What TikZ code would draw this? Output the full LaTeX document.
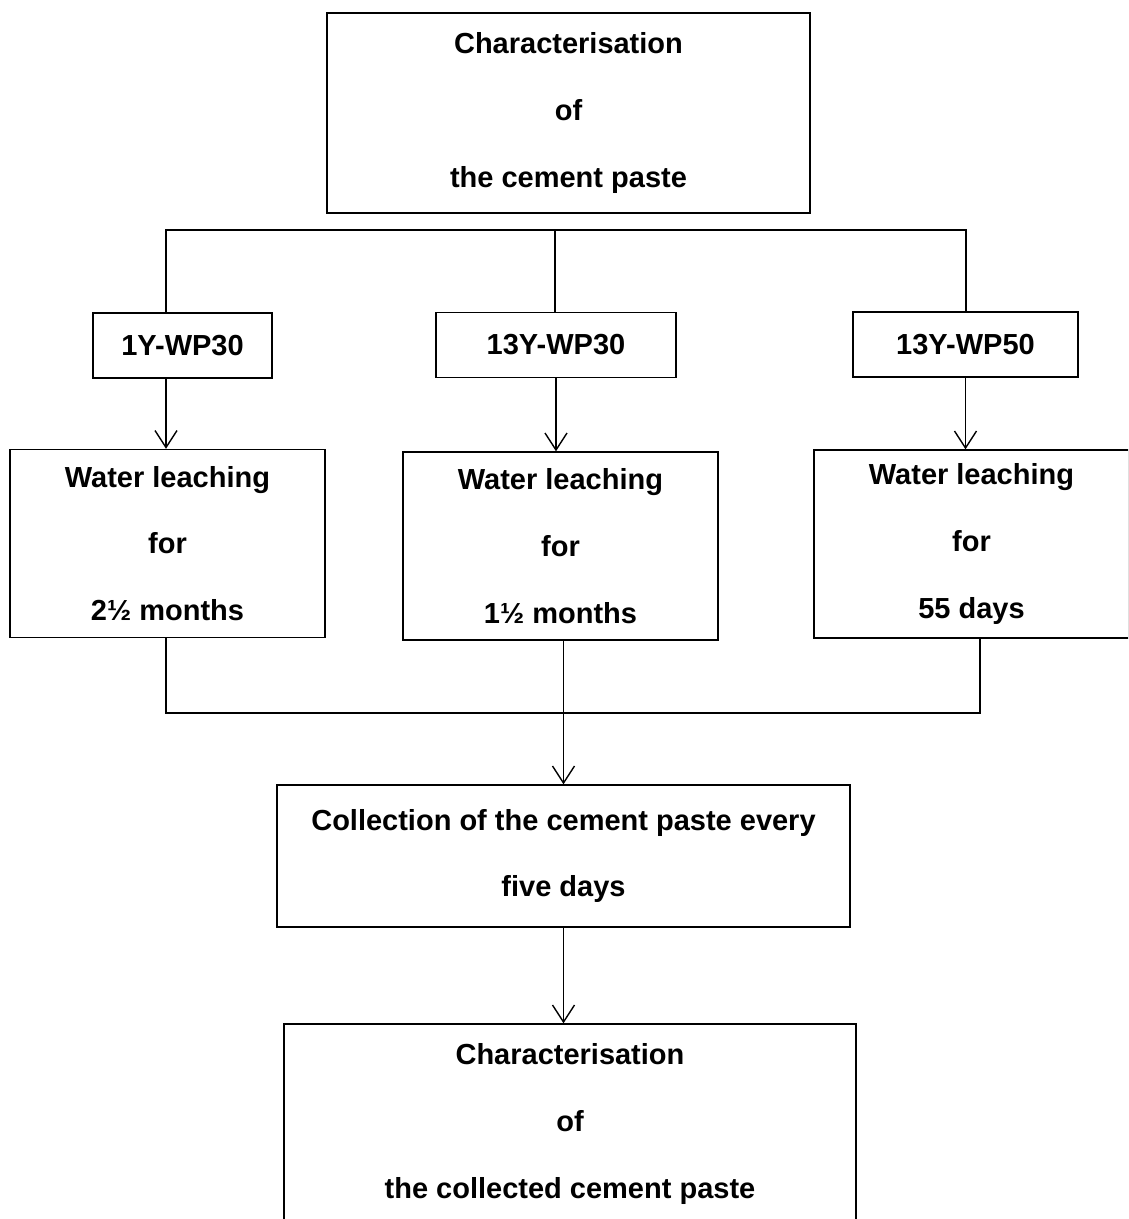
\documentclass[tikz,border=0pt]{standalone}
\usepackage{fontspec}
\setmainfont{Liberation Sans}
\usepackage{tikz}
\usetikzlibrary{shapes.geometric, arrows.meta}

\begin{document}
\begin{tikzpicture}[line width=0.8pt, >={Straight Barb[length=3.4mm,width=4.4mm]},
	box/.style={rectangle, draw, align=center, inner sep=0pt, font=\fontsize{16.5}{38}\selectfont\bfseries},
	sample/.style={box, minimum height=1.3cm},
	leach/.style={box, minimum width=6.3cm, minimum height=3.76cm}]
	\useasboundingbox (0,0) rectangle (22.56,-24.38);
	\clip (0,0) rectangle (22.56,-24.38);

	\node[box, minimum width=9.66cm, minimum height=4cm] (char)   at (11.37,-2.26)  {Characterisation\\of\\the cement paste};
	\node[sample, minimum width=3.58cm] (s1)   at (3.65,-6.91)   {1Y-WP30};
	\node[sample, minimum width=4.8cm]  (s2)   at (11.12,-6.90)  {13Y-WP30};
	\node[sample, minimum width=4.5cm]  (s3)   at (19.31,-6.89)  {13Y-WP50};
	\node[leach] (w1)   at (3.35,-10.87)  {Water leaching\\for\\2½ months};
	\node[leach] (w2)   at (11.21,-10.92) {Water leaching\\for\\1½ months};
	\node[leach] (w3)   at (19.43,-10.88) {Water leaching\\for\\55 days};
	\node[box, minimum width=11.46cm, minimum height=2.84cm] (coll)   at (11.27,-17.12) {Collection of the cement paste every\\five days};
	\node[box, minimum width=11.44cm, minimum height=4cm] (final)  at (11.40,-22.48) {Characterisation\\of\\the collected cement paste};

	\coordinate (tl) at (3.32,-4.6);
	\coordinate (tm) at (11.1,-4.6);
	\coordinate (tr) at (19.32,-4.6);
	\coordinate (bl) at (3.32,-14.26);
	\coordinate (br) at (19.6,-14.26);

	\draw (s1.north -| tl) -- (tl) -- (tr) -- (s3.north -| tr);
	\draw (tm) -- (s2.north -| tm);

	\draw[->] (s1.south -| tl) -- (w1.north -| tl);
	\draw[->] (s2.south) -- (w2.north -| s2.south);
	\draw[->] (s3.south) -- (w3.north -| s3.south);

	\draw (w1.south -| bl) -- (bl) -- (br) -- (w3.south -| br);
	\draw[->] (w2.south -| coll.north) -- (coll.north);
	\draw[->] (coll.south) -- (final.north -| coll.south);

\end{tikzpicture}
\end{document}
